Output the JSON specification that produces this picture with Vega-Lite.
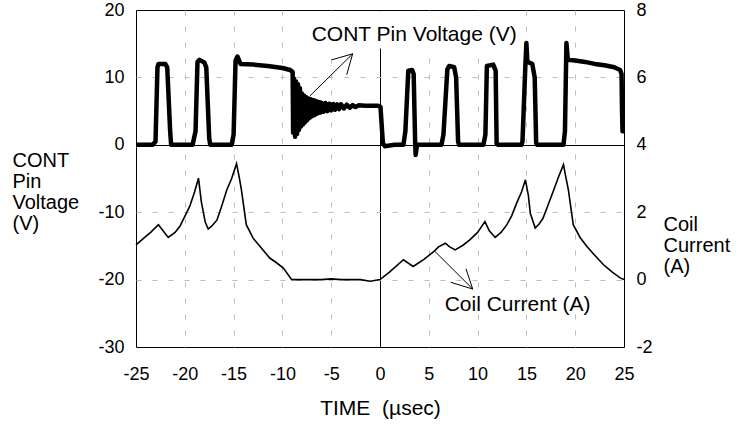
{
  "$schema": "https://vega.github.io/schema/vega-lite/v6.json",
  "width": 488,
  "height": 337,
  "autosize": {"type": "none"},
  "padding": {"left": 136, "top": 10, "right": 117, "bottom": 80},
  "background": "white",
  "config": {
    "view": {"stroke": "#000", "strokeWidth": 1},
    "font": "Liberation Sans",
    "axis": {
      "labelFont": "Liberation Sans",
      "titleFont": "Liberation Sans",
      "labelColor": "#000",
      "titleColor": "#000",
      "labelFontSize": 18,
      "titleFontSize": 20,
      "titleFontWeight": "normal",
      "labelExpr": "replace(datum.label, '\u2212', '-')",
      "labelFlush": false,
      "labelOverlap": false,
      "ticks": false,
      "domain": false
    }
  },
  "datasets": {
    "voltage": [
      {"t": -25, "v": 0}, {"t": -23.3, "v": 0}, {"t": -23.0, "v": 0.5}, {"t": -22.8, "v": 11.5},
      {"t": -22.7, "v": 12.0}, {"t": -22.0, "v": 12.0}, {"t": -21.8, "v": 11.5}, {"t": -21.5, "v": 2},
      {"t": -21.4, "v": 0}, {"t": -19.2, "v": 0}, {"t": -18.9, "v": 2}, {"t": -18.7, "v": 12.3},
      {"t": -18.5, "v": 12.6}, {"t": -18.0, "v": 12.2}, {"t": -17.8, "v": 11.5}, {"t": -17.5, "v": 1},
      {"t": -17.4, "v": 0}, {"t": -15.2, "v": 0}, {"t": -15.0, "v": 1.5}, {"t": -14.8, "v": 12.5},
      {"t": -14.6, "v": 13.1}, {"t": -14.3, "v": 12.0}, {"t": -13, "v": 11.9}, {"t": -11.5, "v": 11.7},
      {"t": -10, "v": 11.4}, {"t": -9.2, "v": 11.1}, {"t": -8.95, "v": 10.8},
      {"t": -8.9, "v": 1.8}, {"t": -8.8, "v": 9.8}, {"t": -8.7, "v": 1.2}, {"t": -8.6, "v": 9.4},
      {"t": -8.5, "v": 1.6}, {"t": -8.4, "v": 9.0}, {"t": -8.3, "v": 2.2}, {"t": -8.2, "v": 8.4},
      {"t": -8.1, "v": 2.7}, {"t": -8.0, "v": 7.6}, {"t": -7.9, "v": 3.0}, {"t": -7.8, "v": 7.3},
      {"t": -7.7, "v": 3.3}, {"t": -7.6, "v": 7.1}, {"t": -7.5, "v": 3.6}, {"t": -7.4, "v": 6.9},
      {"t": -7.3, "v": 3.9}, {"t": -7.2, "v": 6.8}, {"t": -7.1, "v": 4.1}, {"t": -7.0, "v": 6.7},
      {"t": -6.9, "v": 4.3}, {"t": -6.8, "v": 6.6}, {"t": -6.7, "v": 4.4}, {"t": -6.6, "v": 6.5},
      {"t": -6.5, "v": 4.6}, {"t": -6.4, "v": 6.4}, {"t": -6.3, "v": 4.7}, {"t": -6.2, "v": 6.3},
      {"t": -6.1, "v": 4.8}, {"t": -6.0, "v": 6.25}, {"t": -5.8, "v": 4.9}, {"t": -5.6, "v": 6.2},
      {"t": -5.4, "v": 5.0}, {"t": -5.2, "v": 6.1}, {"t": -5.0, "v": 5.1}, {"t": -4.8, "v": 6.05},
      {"t": -4.6, "v": 5.2}, {"t": -4.4, "v": 6.0}, {"t": -4.2, "v": 5.3}, {"t": -4.0, "v": 6.0},
      {"t": -3.7, "v": 5.4}, {"t": -3.4, "v": 5.95}, {"t": -3.1, "v": 5.5}, {"t": -2.8, "v": 5.9},
      {"t": -2.5, "v": 5.6}, {"t": -2.2, "v": 5.85}, {"t": -1.5, "v": 5.8}, {"t": -0.2, "v": 5.8},
      {"t": 0.05, "v": 5.6}, {"t": 0.3, "v": 0.2}, {"t": 0.5, "v": -0.2}, {"t": 1.5, "v": 0},
      {"t": 2.4, "v": 0}, {"t": 2.6, "v": 2}, {"t": 2.9, "v": 11.0}, {"t": 3.3, "v": 11.1},
      {"t": 3.45, "v": 10.5}, {"t": 3.6, "v": 0.5}, {"t": 3.65, "v": -1.5}, {"t": 3.8, "v": 0},
      {"t": 6.3, "v": 0}, {"t": 6.5, "v": 1.5}, {"t": 6.9, "v": 11.2}, {"t": 7.1, "v": 11.7},
      {"t": 7.6, "v": 11.5}, {"t": 7.8, "v": 10}, {"t": 8.0, "v": 0.5}, {"t": 8.1, "v": 0},
      {"t": 10.6, "v": 0}, {"t": 10.8, "v": 1.5}, {"t": 10.95, "v": 11.7}, {"t": 11.6, "v": 11.9},
      {"t": 11.85, "v": 11.0}, {"t": 11.95, "v": 0.2}, {"t": 12.1, "v": 0}, {"t": 14.5, "v": 0},
      {"t": 14.6, "v": 0.5}, {"t": 14.9, "v": 12}, {"t": 15.0, "v": 15.1}, {"t": 15.1, "v": 12.3},
      {"t": 15.6, "v": 12.0}, {"t": 15.85, "v": 10}, {"t": 16.0, "v": 0.3}, {"t": 16.1, "v": 0},
      {"t": 18.8, "v": 0}, {"t": 18.95, "v": 2}, {"t": 19.1, "v": 15.1}, {"t": 19.25, "v": 12.6},
      {"t": 20, "v": 12.5}, {"t": 21, "v": 12.3}, {"t": 22, "v": 12.0}, {"t": 23, "v": 11.8},
      {"t": 24, "v": 11.5}, {"t": 24.6, "v": 11.1}, {"t": 24.75, "v": 10.5}, {"t": 24.8, "v": 5},
      {"t": 24.85, "v": 2.0}
    ],
    "current": [
      {"t": -25, "a": 1.03}, {"t": -24.2, "a": 1.23}, {"t": -23.5, "a": 1.4}, {"t": -22.7, "a": 1.63},
      {"t": -21.7, "a": 1.25}, {"t": -21.0, "a": 1.4}, {"t": -20.5, "a": 1.58}, {"t": -19.5, "a": 2.17},
      {"t": -19.0, "a": 2.6}, {"t": -18.6, "a": 3.01}, {"t": -18.3, "a": 2.3}, {"t": -17.9, "a": 1.7},
      {"t": -17.6, "a": 1.5}, {"t": -17.2, "a": 1.6}, {"t": -16.7, "a": 1.77}, {"t": -16.2, "a": 2.2},
      {"t": -15.7, "a": 2.66}, {"t": -15.2, "a": 3.0}, {"t": -14.7, "a": 3.44}, {"t": -14.4, "a": 3.0},
      {"t": -14.2, "a": 2.66}, {"t": -13.7, "a": 1.63}, {"t": -13.0, "a": 1.23}, {"t": -12.2, "a": 0.95},
      {"t": -11.3, "a": 0.64}, {"t": -10.6, "a": 0.5}, {"t": -9.9, "a": 0.34}, {"t": -9.05, "a": 0.0},
      {"t": -8, "a": 0.0}, {"t": -6, "a": 0.0}, {"t": -5, "a": 0.02}, {"t": -4, "a": 0.0},
      {"t": -2, "a": 0.0}, {"t": -1, "a": -0.05}, {"t": 0, "a": 0.0}, {"t": 1.0, "a": 0.23},
      {"t": 2.4, "a": 0.59}, {"t": 3.4, "a": 0.39}, {"t": 4.5, "a": 0.6}, {"t": 5.5, "a": 0.83},
      {"t": 6.0, "a": 0.97}, {"t": 6.7, "a": 1.08}, {"t": 7.1, "a": 0.98}, {"t": 7.7, "a": 0.88},
      {"t": 8.5, "a": 1.02}, {"t": 9.2, "a": 1.18}, {"t": 10.0, "a": 1.4}, {"t": 10.75, "a": 1.72},
      {"t": 11.2, "a": 1.45}, {"t": 11.8, "a": 1.25}, {"t": 12.4, "a": 1.4}, {"t": 13.0, "a": 1.63},
      {"t": 13.5, "a": 1.9}, {"t": 14.0, "a": 2.27}, {"t": 14.5, "a": 2.6}, {"t": 14.9, "a": 2.96},
      {"t": 15.2, "a": 2.5}, {"t": 15.4, "a": 1.97}, {"t": 15.9, "a": 1.53}, {"t": 16.3, "a": 1.65},
      {"t": 16.7, "a": 1.82}, {"t": 17.2, "a": 2.2}, {"t": 17.8, "a": 2.66}, {"t": 18.3, "a": 3.05},
      {"t": 18.8, "a": 3.41}, {"t": 19.0, "a": 3.1}, {"t": 19.3, "a": 2.66}, {"t": 19.8, "a": 1.63},
      {"t": 20.5, "a": 1.25}, {"t": 21.2, "a": 0.98}, {"t": 22.0, "a": 0.72}, {"t": 22.9, "a": 0.44},
      {"t": 23.8, "a": 0.22}, {"t": 24.6, "a": 0.05}, {"t": 25, "a": 0.0}
    ],
    "box": [{"t": -8.2, "t2": 14.85, "v": 14.3, "v2": 19.8}],
    "arrows": [
      {"t": -7.17, "v": 7.27, "t2": -2.8, "v2": 13.5},
      {"t": -4.95, "v": 12.6, "t2": -2.8, "v2": 13.5},
      {"t": -3.41, "v": 10.4, "t2": -2.8, "v2": 13.5},
      {"t": 5.64, "v": -15.83, "t2": 9.5, "v2": -21.4},
      {"t": 7.24, "v": -20.4, "t2": 9.5, "v2": -21.4},
      {"t": 8.81, "v": -18.4, "t2": 9.5, "v2": -21.4}
    ],
    "notes": [
      {"t": 3.5, "v": 16.3, "label": "CONT Pin Voltage (V)"},
      {"t": 14.1, "v": -23.7, "label": "Coil Current (A)"}
    ]
  },
  "encoding": {
    "x": {
      "field": "t",
      "type": "quantitative",
      "scale": {"domain": [-25, 25], "nice": false, "zero": false},
      "axis": {
        "values": [-25, -20, -15, -10, -5, 0, 5, 10, 15, 20, 25],
        "title": "TIME \u00a0(µsec)",
        "labelPadding": 18,
        "titlePadding": 14,
        "titleFontSize": 21,
        "grid": true,
        "gridColor": {"condition": {"test": "datum.value === 0", "value": "#000"}, "value": "#bdbdbd"},
        "gridDash": {"condition": {"test": "datum.value === 0", "value": []}, "value": [5, 11]},
        "gridOpacity": {"condition": {"test": "abs(datum.value) === 25", "value": 0}, "value": 1}
      }
    }
  },
  "layer": [
    {
      "encoding": {
        "y": {
          "field": "v",
          "type": "quantitative",
          "scale": {"domain": [-30, 20], "nice": false, "zero": false},
          "axis": {
            "orient": "left",
            "values": [-30, -20, -10, 0, 10, 20],
            "labelPadding": 12,
            "title": ["CONT", "Pin", "Voltage", "(V)"],
            "titleAngle": 0,
            "titleAlign": "left",
            "titleBaseline": "top",
            "titleX": -124,
            "titleY": 140,
            "titleLineHeight": 21,
            "grid": true,
            "gridColor": {"condition": {"test": "datum.value === 0", "value": "#000"}, "value": "#bdbdbd"},
            "gridDash": {"condition": {"test": "datum.value === 0", "value": []}, "value": [5, 11]},
            "gridOpacity": {"condition": {"test": "datum.value === 20 || datum.value === -30", "value": 0}, "value": 1}
          }
        }
      },
      "layer": [
        {
          "data": {"name": "box"},
          "mark": {"type": "rect", "fill": "white", "stroke": null},
          "encoding": {"x2": {"field": "t2"}, "y2": {"field": "v2"}}
        },
        {
          "data": {"name": "voltage"},
          "mark": {"type": "line", "color": "#000", "strokeWidth": 4.5, "strokeJoin": "round", "strokeCap": "round", "clip": true}
        },
        {
          "data": {"name": "arrows"},
          "mark": {"type": "rule", "color": "#000", "strokeWidth": 1},
          "encoding": {"x2": {"field": "t2"}, "y2": {"field": "v2"}}
        },
        {
          "data": {"name": "notes"},
          "mark": {"type": "text", "fontSize": 21, "font": "Liberation Sans", "color": "#000", "align": "center", "baseline": "middle"},
          "encoding": {"text": {"field": "label"}}
        }
      ]
    },
    {
      "data": {"name": "current"},
      "mark": {"type": "line", "color": "#000", "strokeWidth": 1.6},
      "encoding": {
        "y": {
          "field": "a",
          "type": "quantitative",
          "scale": {"domain": [-2, 8], "nice": false, "zero": false},
          "axis": {
            "orient": "right",
            "values": [-2, 0, 2, 4, 6, 8],
            "labelPadding": 12,
            "grid": false,
            "title": ["Coil", "Current", "(A)"],
            "titleAngle": 0,
            "titleAlign": "left",
            "titleBaseline": "top",
            "titleX": 39,
            "titleY": 204,
            "titleLineHeight": 21
          }
        }
      }
    }
  ],
  "resolve": {"scale": {"y": "independent"}}
}
